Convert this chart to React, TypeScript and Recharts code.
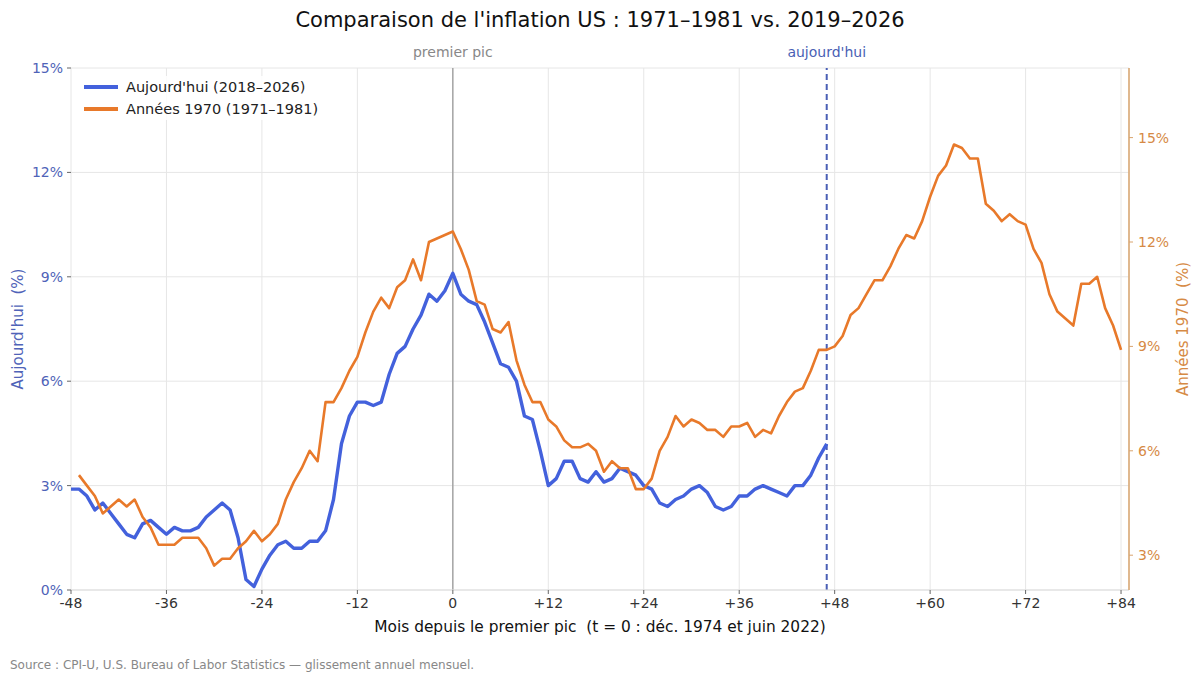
import React from 'react';
import { LineChart, Line, XAxis, YAxis, CartesianGrid, ReferenceLine } from 'recharts';

// Month offsets relative to the first peak (t = 0)
const START_MONTH = -48;
const END_MONTH = 84;
const X_TICKS = [-48, -36, -24, -12, 0, 12, 24, 36, 48, 60, 72, 84];
const LEFT_TICKS = [0, 3, 6, 9, 12, 15];
const RIGHT_TICKS = [3, 6, 9, 12, 15];
const FIRST_PEAK = 0;
const TODAY_MARK = 47;

// Today's series: June 2018 (t = -48) to May 2026 (t = +47)
const TODAY_START = -48;
const TODAY_VALUES = [
  2.9, 2.9, 2.7, 2.3, 2.5, 2.2, 1.9,
  1.6, 1.5, 1.9, 2.0, 1.8, 1.6, 1.8, 1.7, 1.7, 1.8, 2.1, 2.3,
  2.5, 2.3, 1.5, 0.3, 0.1, 0.6, 1.0, 1.3, 1.4, 1.2, 1.2, 1.4,
  1.4, 1.7, 2.6, 4.2, 5.0, 5.4, 5.4, 5.3, 5.4, 6.2, 6.8, 7.0,
  7.5, 7.9, 8.5, 8.3, 8.6, 9.1, 8.5, 8.3, 8.2, 7.7, 7.1, 6.5,
  6.4, 6.0, 5.0, 4.9, 4.0, 3.0, 3.2, 3.7, 3.7, 3.2, 3.1, 3.4,
  3.1, 3.2, 3.5, 3.4, 3.3, 3.0, 2.9, 2.5, 2.4, 2.6, 2.7, 2.9,
  3.0, 2.8, 2.4, 2.3, 2.4, 2.7, 2.7, 2.9, 3.0, 2.9, 2.8, 2.7,
  3.0, 3.0, 3.3, 3.8, 4.2,
];

// 1970s series: January 1971 (t = -47) to December 1981 (t = +84)
const SEVENTIES_START = -47;
const SEVENTIES_VALUES = [
  5.3, 5.0, 4.7, 4.2, 4.4, 4.6, 4.4, 4.6, 4.1, 3.8, 3.3, 3.3,
  3.3, 3.5, 3.5, 3.5, 3.2, 2.7, 2.9, 2.9, 3.2, 3.4, 3.7, 3.4,
  3.6, 3.9, 4.6, 5.1, 5.5, 6.0, 5.7, 7.4, 7.4, 7.8, 8.3, 8.7,
  9.4, 10.0, 10.4, 10.1, 10.7, 10.9, 11.5, 10.9, 12.0, 12.1, 12.2, 12.3,
  11.8, 11.2, 10.3, 10.2, 9.5, 9.4, 9.7, 8.6, 7.9, 7.4, 7.4, 6.9,
  6.7, 6.3, 6.1, 6.1, 6.2, 6.0, 5.4, 5.7, 5.5, 5.5, 4.9, 4.9,
  5.2, 6.0, 6.4, 7.0, 6.7, 6.9, 6.8, 6.6, 6.6, 6.4, 6.7, 6.7,
  6.8, 6.4, 6.6, 6.5, 7.0, 7.4, 7.7, 7.8, 8.3, 8.9, 8.9, 9.0,
  9.3, 9.9, 10.1, 10.5, 10.9, 10.9, 11.3, 11.8, 12.2, 12.1, 12.6, 13.3,
  13.9, 14.2, 14.8, 14.7, 14.4, 14.4, 13.1, 12.9, 12.6, 12.8, 12.6, 12.5,
  11.8, 11.4, 10.5, 10.0, 9.8, 9.6, 10.8, 10.8, 11.0, 10.1, 9.6, 8.9,
];

const BLUE = '#4361dc';
const ORANGE = '#e8792a';
const BLUE_TXT = '#4f63b8';
const ORANGE_TXT = '#d68a45';
const FONT = '"DejaVu Sans", Verdana, sans-serif';

const SERIES = [
  { key: 'today', name: "Aujourd'hui (2018\u20132026)", color: BLUE, width: 3.4, axis: 'left' },
  { key: 'seventies', name: 'Ann\u00e9es 1970 (1971\u20131981)', color: ORANGE, width: 2.6, axis: 'right' },
];

const data: { t: number; today: number | null; seventies: number | null }[] = [];
for (let t = START_MONTH; t <= END_MONTH; t++) {
  const i = t - TODAY_START;
  const j = t - SEVENTIES_START;
  data.push({
    t,
    today: i >= 0 && i < TODAY_VALUES.length ? TODAY_VALUES[i] : null,
    seventies: j >= 0 && j < SEVENTIES_VALUES.length ? SEVENTIES_VALUES[j] : null,
  });
}

const fmtX = (v: number) => (v > 0 ? `+${v}` : `${v}`);
const fmtPct = (v: number) => `${v}%`;

export default function App() {
  return (
    <div style={{ position: 'absolute', left: 0, top: 0, width: 1200, height: 682, background: '#fff', fontFamily: FONT }}>
      <div style={{ position: 'absolute', left: 0, top: 5, width: 1200, textAlign: 'center', fontSize: 21, color: '#111', lineHeight: '30px' }}>
        Comparaison de l'inflation US : 1971–1981 vs. 2019–2026
      </div>
      <LineChart width={1200} height={682} data={data} margin={{ top: 68, right: 11, bottom: 62, left: 11 }} style={{ fontFamily: FONT }}>
        <CartesianGrid yAxisId="left" stroke="#e6e6e6" strokeWidth={1} />
        <XAxis
          dataKey="t"
          type="number"
          domain={[-48, 85]}
          ticks={X_TICKS}
          tickFormatter={fmtX}
          height={30}
          tickSize={4}
          tickMargin={4}
          stroke="#dddddd"
          tickLine={{ stroke: '#666' }}
          tick={{ fill: '#333', fontSize: 14 }}
          label={{
            content: (p: any) => {
              const vb = p.viewBox || {};
              return (
                <text x={vb.x + vb.width / 2} y={vb.y + 42} textAnchor="middle" fontSize={15.4} fill="#111" style={{ whiteSpace: 'pre' }}>
                  {'Mois depuis le premier pic  (t = 0 : d\u00e9c. 1974 et juin 2022)'}
                </text>
              );
            },
          }}
        />
        <YAxis
          yAxisId="left"
          domain={[0, 15]}
          ticks={LEFT_TICKS}
          tickFormatter={fmtPct}
          width={60}
          tickSize={4}
          tickMargin={4}
          axisLine={false}
          tickLine={{ stroke: '#666' }}
          tick={{ fill: BLUE_TXT, fontSize: 14 }}
          label={{
            content: (p: any) => {
              const vb = p.viewBox || {};
              const x = vb.x + 7;
              const y = vb.y + vb.height / 2;
              return (
                <text x={x} y={y} transform={`rotate(-90 ${x} ${y})`} textAnchor="middle" dominantBaseline="central" fontSize={15} fill={BLUE_TXT} style={{ whiteSpace: 'pre' }}>
                  {"Aujourd'hui  (%)"}
                </text>
              );
            },
          }}
        />
        <YAxis
          yAxisId="right"
          orientation="right"
          domain={[2, 17]}
          ticks={RIGHT_TICKS}
          tickFormatter={fmtPct}
          width={60}
          tickSize={4}
          tickMargin={5}
          axisLine={{ stroke: '#d9a46e', strokeWidth: 1.5 }}
          tickLine={{ stroke: '#d9a46e' }}
          tick={{ fill: ORANGE_TXT, fontSize: 14 }}
          label={{
            content: (p: any) => {
              const vb = p.viewBox || {};
              const x = vb.x + 54;
              const y = vb.y + vb.height / 2;
              return (
                <text x={x} y={y} transform={`rotate(-90 ${x} ${y})`} textAnchor="middle" dominantBaseline="central" fontSize={15} fill={ORANGE_TXT} style={{ whiteSpace: 'pre' }}>
                  {'Ann\u00e9es 1970  (%)'}
                </text>
              );
            },
          }}
        />
        <ReferenceLine
          yAxisId="left"
          x={FIRST_PEAK}
          stroke="#9a9a9a"
          strokeWidth={1.3}
          label={{ value: 'premier pic', position: 'top', offset: 11, fill: '#888', fontSize: 14 }}
        />
        <ReferenceLine
          yAxisId="left"
          x={TODAY_MARK}
          stroke="#4a5fb5"
          strokeWidth={2}
          strokeDasharray="6 4"
          label={{ value: "aujourd'hui", position: 'top', offset: 11, fill: '#4a5fb5', fontSize: 14 }}
        />
        {SERIES.map((s) => (
          <Line
            key={s.key}
            yAxisId={s.axis}
            type="linear"
            dataKey={s.key}
            name={s.name}
            stroke={s.color}
            strokeWidth={s.width}
            dot={false}
            activeDot={false}
            connectNulls={false}
            isAnimationActive={false}
            strokeLinejoin="round"
          />
        ))}
      </LineChart>
      <div style={{ position: 'absolute', left: 80, top: 76, background: 'rgba(255,255,255,0.85)', padding: '0 4px' }}>
        {SERIES.map((s) => (
          <div key={s.key} style={{ display: 'flex', alignItems: 'center', height: 22 }}>
            <div style={{ width: 34, height: 3.5, background: s.color, marginRight: 8 }} />
            <span style={{ fontSize: 14.5, color: '#222' }}>{s.name}</span>
          </div>
        ))}
      </div>
      <div style={{ position: 'absolute', left: 10, top: 658, fontSize: 12, color: '#888' }}>
        Source : CPI-U, U.S. Bureau of Labor Statistics — glissement annuel mensuel.
      </div>
    </div>
  );
}
